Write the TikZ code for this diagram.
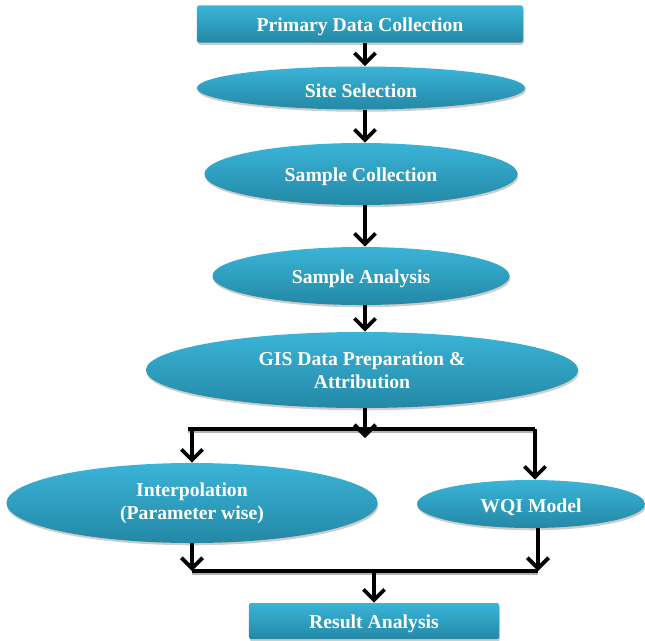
\documentclass[tikz,border=0pt]{standalone}
\usepackage{fontspec}
\setmainfont{Liberation Serif}
\usepackage{tikz}
\usetikzlibrary{arrows.meta,shapes.geometric,shadows,positioning}
\definecolor{tealtop}{RGB}{58,180,216}
\definecolor{tealbot}{RGB}{36,136,166}

\tikzset{
    stage/.style={shape=ellipse, inner sep=0pt, align=center,
        top color=tealtop, bottom color=tealbot, draw=none,
        text=white, font=\fontsize{14}{16.5}\selectfont\bfseries,
        execute at begin node={\rule{0pt}{1em}},
        drop shadow={shadow xshift=0.6pt, shadow yshift=-1.6pt, fill=black!40}},
    endbox/.style={stage, shape=rectangle, rounded corners=1.5pt},
    flow/.style={line width=2.7pt, -{Straight Barb[length=7.5pt,width=15pt]}},
    rail/.style={line width=2.8pt,
        preaction={draw=black!30, line width=2.8pt, transform canvas={yshift=-1.3pt}}}
}

\begin{document}
\begin{tikzpicture}[x=0.025cm, y=-0.025cm]
    \useasboundingbox (0,0) rectangle (645,640);
    % stages
    \node[endbox, minimum width=8.15cm, minimum height=0.925cm] (prim) at (360,24) {Primary Data Collection};
    \node[stage, minimum width=8.2cm, minimum height=1.075cm] (site) at (361,88) {Site Selection};
    \node[stage, minimum width=7.825cm, minimum height=1.55cm] (sampcol) at (361,174) {Sample Collection};
    \node[stage, minimum width=7.425cm, minimum height=1.45cm] (sampana) at (361,276) {Sample Analysis};
    \node[stage, minimum width=10.8cm, minimum height=1.9cm] (gis) at (362,370) {GIS Data Preparation \&\\Attribution};
    \node[stage, minimum width=9.275cm, minimum height=2.0cm] (interp) at (192,503) {Interpolation\\(Parameter wise)};
    \node[stage, minimum width=5.7cm, minimum height=1.2cm] (wqi) at (531,504) {WQI Model};
    \node[endbox, minimum width=6.25cm, minimum height=0.9cm] (result) at (374,621) {Result Analysis};
    % split and join points
    \coordinate (splitL) at (188,429);
    \coordinate (splitR) at (535,429);
    \coordinate (splitM) at (365,438);
    \coordinate (joinL) at (192,571);
    \coordinate (joinR) at (538,571);
    % connectors
    \draw[flow] (prim.south -| splitM) -- (site.north -| splitM);
    \draw[flow] (site.south -| splitM) -- (sampcol.north -| splitM);
    \draw[flow] (sampcol.south -| splitM) -- (sampana.north -| splitM);
    \draw[flow] (sampana.south -| splitM) -- (gis.north -| splitM);
    \draw[rail] (splitL) -- (splitR);
    \draw[flow] (gis.south -| splitM) -- (splitM);
    \draw[flow] (interp.north |- splitL) -- (interp.north);
    \draw[flow] (splitR) -- (wqi.north -| splitR);
    \draw[flow] (interp.south) -- (joinL);
    \draw[flow] (wqi.south -| joinR) -- (joinR);
    \draw[rail] (joinL) -- (joinR);
    \draw[flow] (result.north |- joinL) -- (result.north);
\end{tikzpicture}
\end{document}
